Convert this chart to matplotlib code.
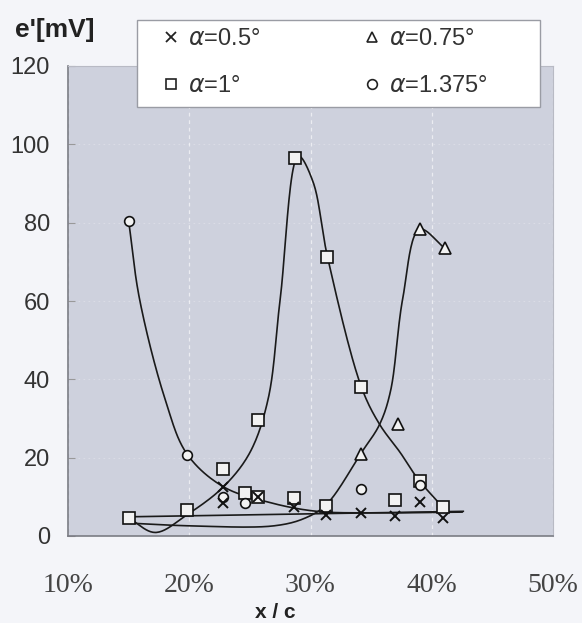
import numpy as np
import matplotlib
matplotlib.use("Agg")
import matplotlib.pyplot as plt
from matplotlib.lines import Line2D
from matplotlib.patches import Rectangle

# measured points (x/c in %, e' in mV)
sq_x = [15.0, 19.8, 22.8, 24.6, 25.7, 25.7, 28.6, 28.7, 31.3, 31.4, 34.2, 37.0, 39.0, 40.9]
sq_y = [4.6, 6.6, 17.0, 11.0, 10.0, 29.7, 9.8, 96.4, 7.7, 71.3, 38.0, 9.2, 14.0, 7.5]

ci_x = [15.0, 19.8, 22.8, 24.6, 34.2, 39.0]
ci_y = [80.5, 20.8, 10.0, 8.3, 12.0, 13.0]

xm_x = [22.8, 22.8, 25.7, 28.6, 31.3, 34.2, 37.0, 39.0, 40.9]
xm_y = [12.5, 8.5, 10.0, 7.3, 5.4, 5.9, 5.0, 8.7, 4.6]

tr_x = [34.2, 37.2, 39.0, 41.1]
tr_y = [21.0, 28.5, 78.5, 73.6]

# hand-drawn trend curves (knots)
ci_cx = [15.0, 15.9, 18.0, 19.8, 22.8, 26.7, 30.5, 35.0, 42.5]
ci_cy = [80.5, 60.5, 35.0, 21.0, 12.6, 8.5, 6.3, 5.9, 6.1]

sq_cx = [15.0, 17.2, 19.8, 22.8, 25.0, 26.5, 27.5, 29.0, 30.2, 31.4, 34.2, 35.7,
         37.4, 38.9, 40.9]
sq_cy = [4.6, 0.9, 5.4, 12.5, 21.3, 34.9, 60.5, 97.0, 90.5, 71.3, 38.0, 28.5,
         21.3, 14.4, 7.4]

tr_cx = [15.0, 20.0, 27.0, 29.5, 31.3, 34.2, 35.7, 36.6, 37.6, 39.0, 41.1]
tr_cy = [3.3, 2.6, 2.6, 4.5, 8.0, 21.3, 28.5, 37.0, 60.5, 78.3, 73.4]

xm_cx = [15.0, 42.6]
xm_cy = [4.9, 6.3]

xticks = [10, 20, 30, 40, 50]
xticklabels = ["10%", "20%", "30%", "40%", "50%"]
yticks = [0, 20, 40, 60, 80, 100, 120]


def smooth(xs, ys, sx=12.1, sy=3.9, n=24):
    # centripetal catmull-rom through the knots, in roughly pixel space
    p = np.column_stack([np.array(xs) * sx, np.array(ys) * sy])
    if len(p) < 3:
        return np.array(xs), np.array(ys)
    p = np.vstack([2 * p[0] - p[1], p, 2 * p[-1] - p[-2]])
    out = []
    for i in range(1, len(p) - 2):
        p0, p1, p2, p3 = p[i - 1], p[i], p[i + 1], p[i + 2]
        t0 = 0.0
        t1 = t0 + np.linalg.norm(p1 - p0) ** 0.5
        t2 = t1 + np.linalg.norm(p2 - p1) ** 0.5
        t3 = t2 + np.linalg.norm(p3 - p2) ** 0.5
        t = np.linspace(t1, t2, n)[:, None]
        a1 = (t1 - t) / (t1 - t0) * p0 + (t - t0) / (t1 - t0) * p1
        a2 = (t2 - t) / (t2 - t1) * p1 + (t - t1) / (t2 - t1) * p2
        a3 = (t3 - t) / (t3 - t2) * p2 + (t - t2) / (t3 - t2) * p3
        b1 = (t2 - t) / (t2 - t0) * a1 + (t - t0) / (t2 - t0) * a2
        b2 = (t3 - t) / (t3 - t1) * a2 + (t - t1) / (t3 - t1) * a3
        c = (t2 - t) / (t2 - t1) * b1 + (t - t1) / (t2 - t1) * b2
        out.append(c if i == 1 else c[1:])
    out = np.vstack(out)
    return out[:, 0] / sx, out[:, 1] / sy


plt.rcParams["font.family"] = ["Liberation Sans", "DejaVu Sans"]
plt.rcParams["mathtext.fontset"] = "dejavusans"

W, H = 582, 623
fig = plt.figure(figsize=(5.82, 6.23), dpi=100, facecolor="#f4f5f9")
ax = fig.add_axes([68 / W, 1 - 536 / H, 485 / W, 470 / H])
ax.set_facecolor("#ced1dd")
ax.set_xlim(10, 50)
ax.set_ylim(0, 120)

for cx, cy in [(ci_cx, ci_cy), (sq_cx, sq_cy), (tr_cx, tr_cy), (xm_cx, xm_cy)]:
    lx, ly = smooth(cx, cy)
    ax.plot(lx, ly, color="#1a1a1a", lw=1.2, zorder=3, clip_on=False)

mk = dict(linestyle="none", markeredgecolor="#111111", markerfacecolor="#f2f2f2",
          markeredgewidth=1.2, zorder=4, clip_on=False)
ax.plot(sq_x, sq_y, marker="s", markersize=8, **mk)
ax.plot(ci_x, ci_y, marker="o", markersize=7, **mk)
ax.plot(tr_x, tr_y, marker="^", markersize=8, **mk)
ax.plot(xm_x, xm_y, marker="x", markersize=7, linestyle="none",
        color="#111111", markeredgewidth=1.4, zorder=5)

ax.set_xticks(xticks)
ax.set_xticklabels(xticklabels, family="Liberation Serif", fontsize=20, color="#444444")
ax.set_yticks(yticks)
ax.tick_params(axis="x", direction="in", length=0, pad=27)
ax.tick_params(axis="y", direction="in", length=5, pad=13, labelsize=17,
               labelcolor="#333333", color="#999999")
ax.grid(axis="x", color="white", lw=0.9, ls=(0, (3, 3)), alpha=0.6)
ax.grid(axis="y", color="white", lw=0.6, ls=(0, (2, 4)), alpha=0.3)
ax.set_axisbelow(True)
for side in ["top", "right"]:
    ax.spines[side].set_color("#b8bac4")
for side in ["left", "bottom"]:
    ax.spines[side].set_color("#7a7c84")
    ax.spines[side].set_linewidth(1.2)

fig.text(55 / W, 1 - 30 / H, "e'[mV]", ha="center", va="center",
         fontsize=19, fontweight="bold", color="#222222")
fig.text(275 / W, 1 - 612 / H, "x / c", ha="center", va="center",
         fontsize=15, fontweight="bold", color="#222222")

# legend box
fig.add_artist(Rectangle((137 / W, 1 - 107 / H), 403 / W, 87 / H, transform=fig.transFigure,
                         facecolor="white", edgecolor="#9a9ca4", lw=1.0, zorder=4))

hstyle = dict(markersize=7, linestyle="none", markeredgecolor="#222222",
              markerfacecolor="white", markeredgewidth=1.2)
h_x = Line2D([], [], marker="x", markersize=7, linestyle="none", color="#222222", markeredgewidth=1.3)
h_sq = Line2D([], [], marker="s", **hstyle)
h_tr = Line2D([], [], marker="^", **hstyle)
h_ci = Line2D([], [], marker="o", **hstyle)

fs = 17
hl = 0.8
for hs, labs, mx in [([h_x, h_sq], [r"$\alpha$=0.5°", r"$\alpha$=1°"], 171),
                     ([h_tr, h_ci], [r"$\alpha$=0.75°", r"$\alpha$=1.375°"], 372)]:
    x0 = mx - hl * fs * 100 / 72 / 2
    leg = fig.legend(hs, labs, loc="upper left", bbox_to_anchor=(x0 / W, 1 - 28 / H),
                     frameon=False, fontsize=fs, handlelength=hl, handletextpad=0.3,
                     labelspacing=1.08, borderpad=0.0, borderaxespad=0.0)
    leg.set_zorder(5)
    for t in leg.get_texts():
        t.set_color("#333333")

fig.savefig("out.png", dpi=100, facecolor=fig.get_facecolor())
